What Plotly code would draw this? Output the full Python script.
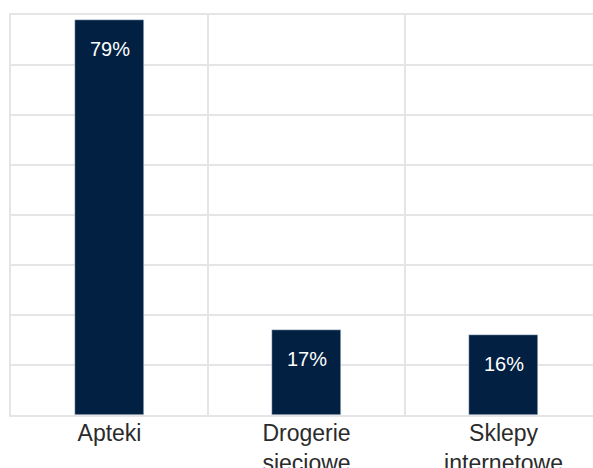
import plotly.graph_objects as go

categories = ["Apteki", "Drogerie<br>sieciowe", "Sklepy<br>internetowe"]
values = [79, 17, 16]
labels = ["79%", "17%", "16%"]

bar_color = "#022042"
grid_color = "#e5e5e8"
font_family = "Liberation Sans, Arial, sans-serif"

fig = go.Figure()
fig.add_trace(go.Bar(
    x=categories, y=values, marker_color=bar_color, width=0.35,
    hoverinfo="skip",
))

for c, v, t in zip(categories, values, labels):
    fig.add_annotation(x=c, y=v, text=t, showarrow=False, yanchor="middle",
                       yshift=-29, font=dict(color="white", size=20,
                                             family=font_family))

fig.update_layout(
    width=593, height=468,
    margin=dict(l=11, r=0, t=15, b=53),
    plot_bgcolor="white", paper_bgcolor="white",
    showlegend=False, bargap=0,
    font=dict(family=font_family, size=23, color="#2b2b2b"),
)
fig.update_xaxes(
    type="category", range=[-0.5, 2.454], tickson="boundaries",
    showgrid=True, gridcolor=grid_color, gridwidth=2,
    ticks="", showline=True, mirror=True, linecolor=grid_color, linewidth=2,
    tickfont=dict(size=23, color="#2b2b2b"), automargin=False,
    ticklabelstandoff=-4,
)
fig.update_yaxes(
    range=[0, 80], dtick=10, showgrid=True, gridcolor=grid_color, gridwidth=2,
    showticklabels=False, zeroline=False, showline=True, mirror=False,
    linecolor=grid_color, linewidth=2, automargin=False,
)

fig.write_html("out.html")
